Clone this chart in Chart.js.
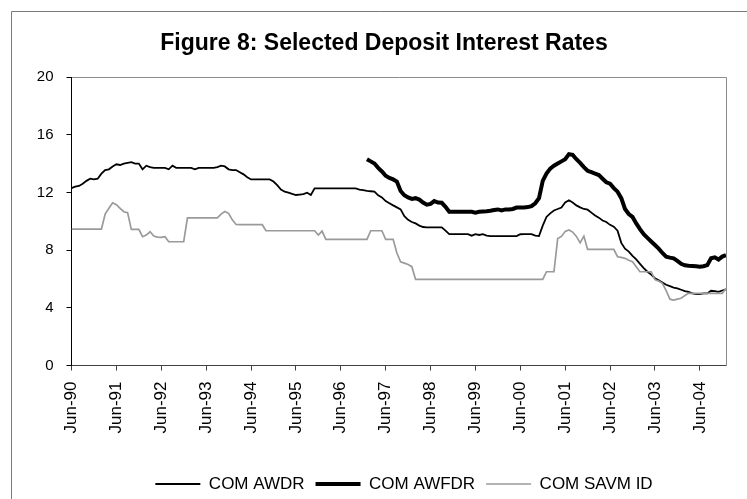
<!DOCTYPE html>
<html>
<head>
<meta charset="utf-8">
<script src="https://cdn.jsdelivr.net/npm/chart.js@4.4.1/dist/chart.umd.min.js"></script>
<style>
html,body{margin:0;padding:0;background:#fff;}
#wrap{width:747px;height:499px;position:relative;}
</style>
</head>
<body>
<div id="wrap"><canvas id="c" width="747" height="499"></canvas></div>
<script>
// ---- Chart data (monthly, index 0 = Jun-90) ----
const chartTitle = 'Figure 8: Selected Deposit Interest Rates';
const seriesNames = ['COM AWDR', 'COM AWFDR', 'COM SAVM ID'];
const tickLabels = ['Jun-90','Jun-91','Jun-92','Jun-93','Jun-94','Jun-95','Jun-96','Jun-97','Jun-98','Jun-99','Jun-00','Jun-01','Jun-02','Jun-03','Jun-04'];
const yTicks = [0, 4, 8, 12, 16, 20];

const awdr = [
  12.3,12.4,12.45,12.6,12.8,12.95,12.9,12.95,13.3,13.55,13.6,13.8,
  13.95,13.9,14.0,14.05,14.1,14.0,14.0,13.6,13.85,13.75,13.7,13.7,
  13.7,13.7,13.6,13.85,13.7,13.7,13.7,13.7,13.7,13.6,13.7,13.7,
  13.7,13.7,13.7,13.75,13.85,13.8,13.6,13.55,13.55,13.4,13.25,13.05,
  12.9,12.9,12.9,12.9,12.9,12.9,12.75,12.5,12.2,12.05,11.98,11.9,
  11.82,11.85,11.88,11.98,11.82,12.28,12.28,12.28,12.28,12.28,12.28,12.28,
  12.28,12.28,12.28,12.28,12.28,12.2,12.15,12.1,12.08,12.05,11.8,11.65,
  11.4,11.25,11.1,10.96,10.82,10.35,10.1,9.95,9.85,9.7,9.6,9.58,
  9.58,9.58,9.58,9.58,9.35,9.11,9.11,9.11,9.11,9.11,9.11,9.0,
  9.11,9.05,9.11,9.0,8.97,8.97,8.97,8.97,8.97,8.97,8.97,8.97,
  9.1,9.11,9.11,9.11,9.0,8.97,9.7,10.3,10.55,10.75,10.85,10.95,
  11.3,11.45,11.3,11.1,10.96,10.85,10.8,10.6,10.4,10.25,10.05,9.95,
  9.75,9.62,9.35,8.5,8.1,7.9,7.6,7.35,7.05,6.75,6.5,6.3,
  6.05,5.9,5.75,5.6,5.5,5.4,5.35,5.25,5.15,5.1,5.0,4.95,
  4.95,5.0,5.0,5.18,5.15,5.1,5.2,5.28
];

const awfdrStart = 79; // first month with data (Jan-97)
const awfdr = [
  14.3,14.15,14.0,13.7,13.45,13.15,13.0,12.9,12.75,12.1,11.8,11.65,
  11.55,11.6,11.5,11.3,11.15,11.2,11.4,11.3,11.28,11.0,10.66,10.66,
  10.66,10.66,10.66,10.66,10.66,10.6,10.66,10.68,10.7,10.73,10.78,10.82,
  10.75,10.82,10.82,10.85,10.95,10.96,10.96,10.98,11.05,11.25,11.6,12.8,
  13.3,13.65,13.85,14.0,14.15,14.3,14.65,14.6,14.3,14.05,13.75,13.5,
  13.4,13.3,13.2,12.95,12.7,12.6,12.3,12.05,11.6,10.85,10.5,10.3,
  9.85,9.45,9.1,8.85,8.6,8.35,8.1,7.8,7.55,7.48,7.43,7.25,
  7.05,6.95,6.92,6.9,6.88,6.85,6.88,6.96,7.43,7.5,7.35,7.55,
  7.66
];

const savmid = [
  9.46,9.46,9.46,9.46,9.46,9.46,9.46,9.46,9.46,10.5,10.9,11.28,
  11.15,10.9,10.66,10.6,9.44,9.44,9.44,8.93,9.04,9.27,8.97,8.9,
  8.88,8.93,8.58,8.58,8.58,8.58,8.58,10.24,10.24,10.24,10.24,10.24,
  10.24,10.24,10.24,10.24,10.5,10.68,10.55,10.1,9.78,9.76,9.76,9.76,
  9.76,9.76,9.76,9.76,9.34,9.34,9.34,9.34,9.34,9.34,9.34,9.34,
  9.34,9.34,9.34,9.34,9.34,9.34,9.04,9.32,8.75,8.75,8.75,8.75,
  8.75,8.75,8.75,8.75,8.75,8.75,8.75,8.75,9.34,9.34,9.34,9.34,
  8.75,8.75,8.75,7.8,7.19,7.1,7.0,6.85,5.97,5.97,5.97,5.97,
  5.97,5.97,5.97,5.97,5.97,5.97,5.97,5.97,5.97,5.97,5.97,5.97,
  5.97,5.97,5.97,5.97,5.97,5.97,5.97,5.97,5.97,5.97,5.97,5.97,
  5.97,5.97,5.97,5.97,5.97,5.97,5.97,6.5,6.5,6.5,8.8,8.95,
  9.3,9.4,9.25,8.95,8.5,8.97,8.05,8.05,8.05,8.05,8.05,8.05,
  8.05,8.05,7.54,7.5,7.43,7.3,7.19,6.85,6.5,6.5,6.5,6.5,
  5.95,5.85,5.7,5.2,4.6,4.54,4.6,4.66,4.85,5.0,5.0,5.0,
  5.0,5.0,5.0,5.0,5.0,5.0,5.0,5.35
];

// ---- Styling ----
const FONT = '"Liberation Sans", Arial, sans-serif';

const framePlugin = {
  id: 'frame',
  afterLayout(chart) {
    const tb = chart.titleBlock;
    if (tb) { tb.left += 21; tb.right += 21; }
    const lg = chart.legend;
    if (lg) { lg.left += 41; lg.right += 41; lg.top += 3.5; lg.bottom += 3.5; }
  },
  beforeDraw(chart) {
    const ctx = chart.ctx;
    ctx.save();
    ctx.fillStyle = '#ffffff';
    ctx.fillRect(0, 0, chart.width, chart.height);
    ctx.strokeStyle = '#7a7a7a';
    ctx.lineWidth = 1;
    ctx.beginPath();
    ctx.moveTo(11.5, chart.height);
    ctx.lineTo(11.5, 11.5);
    ctx.lineTo(chart.width, 11.5);
    ctx.stroke();
    ctx.restore();
  },
  beforeDatasetsDraw(chart) {
    const a = chart.chartArea;
    const ctx = chart.ctx;
    ctx.save();
    ctx.strokeStyle = '#8c8c8c';
    ctx.lineWidth = 1;
    ctx.beginPath();
    ctx.moveTo(Math.round(a.left), Math.round(a.top) + 0.5);
    ctx.lineTo(Math.round(a.right) + 0.5, Math.round(a.top) + 0.5);
    ctx.lineTo(Math.round(a.right) + 0.5, Math.round(a.bottom));
    ctx.stroke();
    ctx.restore();
  }
};

const toPoints = (arr, start) => arr.map((y, i) => ({ x: i + start, y: y }));

new Chart(document.getElementById('c'), {
  type: 'line',
  data: {
    datasets: [
      { label: seriesNames[0], data: toPoints(awdr, 0), borderColor: '#000000', backgroundColor: '#000000',
        borderWidth: 1.8, pointRadius: 0, tension: 0, fill: false, order: 3 },
      { label: seriesNames[1], data: toPoints(awfdr, awfdrStart), borderColor: '#000000', backgroundColor: '#000000',
        borderWidth: 4, pointRadius: 0, tension: 0, fill: false, order: 2 },
      { label: seriesNames[2], data: toPoints(savmid, 0), borderColor: '#9a9a9a', backgroundColor: '#9a9a9a',
        borderWidth: 1.7, pointRadius: 0, tension: 0, fill: false, order: 1 }
    ]
  },
  options: {
    responsive: false,
    animation: false,
    devicePixelRatio: 1,
    layout: { padding: { left: 0, right: 21, top: 0, bottom: 0 } },
    plugins: {
      title: {
        display: true,
        text: chartTitle,
        color: '#000',
        font: { family: FONT, size: 23, weight: 'bold' },
        padding: { top: 29.5, bottom: 19.9 }
      },
      legend: {
        display: true,
        position: 'bottom',
        labels: {
          color: '#000',
          font: { family: FONT, size: 17 },
          usePointStyle: true,
          pointStyle: 'line',
          pointStyleWidth: 45,
          padding: 11,
          sort: (a, b) => a.datasetIndex - b.datasetIndex
        }
      },
      tooltip: { enabled: false }
    },
    scales: {
      x: {
        type: 'linear',
        min: 0,
        max: 175,
        border: { display: true, color: '#404040', width: 1 },
        grid: { display: true, drawOnChartArea: false, drawTicks: true, tickLength: 5, color: '#404040' },
        ticks: {
          stepSize: 12,
          includeBounds: false,
          autoSkip: false,
          maxRotation: 90,
          minRotation: 90,
          padding: 11,
          color: '#000',
          font: { family: FONT, size: 17 },
          callback: (v) => (v % 12 === 0 && tickLabels[v / 12] !== undefined) ? tickLabels[v / 12] : ''
        },
        afterFit(s) { s.height = 95.5; }
      },
      y: {
        type: 'linear',
        min: yTicks[0],
        max: yTicks[yTicks.length - 1],
        border: { display: true, color: '#000', width: 1 },
        grid: { display: true, drawOnChartArea: false, drawTicks: true, tickLength: 5, color: '#000' },
        ticks: {
          stepSize: yTicks[1] - yTicks[0],
          padding: 13,
          color: '#000',
          font: { family: FONT, size: 15 }
        },
        afterFit(s) { s.width = 71.5; }
      }
    }
  },
  plugins: [framePlugin]
});
</script>
</body>
</html>
